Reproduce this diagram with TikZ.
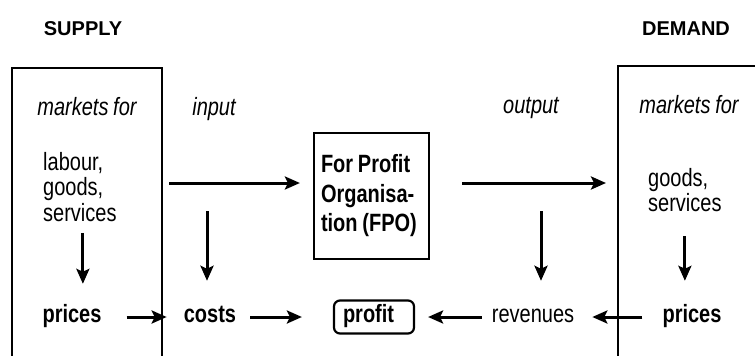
\documentclass[tikz,border=0pt]{standalone}
\usepackage{fontspec}
\setmainfont{Liberation Sans}[FakeStretch=0.8,WordSpace=0.85]
\newfontfamily\headfont{Liberation Sans}
\usepackage{tikz}
\usetikzlibrary{arrows.meta,positioning}

\begin{document}
\begin{tikzpicture}[
  x=1pt,y=-1pt,
  headline/.style={anchor=base,inner sep=0pt,font=\headfont\fontsize{20}{20}\selectfont\bfseries},
  flowlabel/.style={anchor=base,inner sep=0pt,font=\fontsize{25}{25}\selectfont\itshape},
  plain/.style={anchor=base,inner sep=0pt,text height=16pt,text depth=6pt,font=\fontsize{25}{25.5}\selectfont},
  price/.style={plain,font=\fontsize{25}{25.5}\selectfont\bfseries},
  marketlist/.style={anchor=north west,inner sep=0pt,align=flush left,font=\fontsize{25}{25.5}\selectfont},
  marketbox/.style={draw,line width=2.2pt,anchor=north west,minimum height=360pt,inner sep=0pt},
  fpobox/.style={draw,line width=2.2pt,text width=101pt,inner xsep=7pt,minimum height=126pt,align=flush left,font=\fontsize{25}{29.5}\selectfont\bfseries},
  profitbox/.style={draw,line width=2.2pt,rounded corners=6pt,anchor=base,text width=62pt,inner xsep=9pt,minimum height=33pt,text height=16pt,text depth=6pt,align=flush left,font=\fontsize{25}{25.5}\selectfont\bfseries},
  arrow/.style={-{Stealth[length=15pt,width=13pt,inset=3pt]},line width=3pt}
]
\useasboundingbox (0,0) rectangle (755,356);

% headings
\node[headline] (supply) at (83,35) {SUPPLY};
\node[headline] (demand) at (686,35) {DEMAND};

% market boxes, open at the bottom / right
\node[marketbox,minimum width=150pt] (lbox) at (11,67) {};
\node[marketbox,minimum width=200pt] (rbox) at (617,65) {};

\node[flowlabel] (lmkt) at (87,115) {markets for};
\node[flowlabel] (input) at (214,115) {input};
\node[flowlabel] (output) at (531,113) {output};
\node[flowlabel] (rmkt) at (689,113) {markets for};

\node[marketlist] (lgoods) at (43,152) {labour,\\goods,\\services};
\node[marketlist] (rgoods) at (648,168) {goods,\\services};

\node[fpobox] (fpo) at (371.5,196) {For Profit\\Organisa-\\tion (FPO)};

% bottom row
\node[price] (lprices) at (72,322) {prices};
\node[price] (costs) at (210,322) {costs};
\node[profitbox] (profit) at (374,322) {profit};
\node[plain] (revenues) at (533,322) {revenues};
\node[price] (rprices) at (692,322) {prices};

\coordinate (flow) at (0,183);
\coordinate (inflow) at (207,211);
\coordinate (outflow) at (541,211);

\draw[arrow,shorten <=6pt,shorten >=13pt] (lbox.east |- flow) -- (fpo.west |- flow);
\draw[arrow,shorten <=32pt,shorten >=11pt] (fpo.east |- flow) -- (rbox.west |- flow);
\draw[arrow,shorten >=25pt] (inflow) -- (inflow |- costs.north);
\draw[arrow,shorten >=25pt] (outflow) -- (outflow |- revenues.north);
\draw[arrow,shorten <=11pt,shorten >=22pt] ([xshift=3pt]lgoods.south) -- ([xshift=3pt]lgoods.south |- lprices.north);
\draw[arrow,shorten <=24pt,shorten >=25pt] (rgoods.south) -- (rgoods.south |- rprices.north);
\foreach \ra/\rb/\sa/\sb in {lprices/costs/25/17,costs/profit/14/31,revenues/profit/10/13,rprices/revenues/20/18}
  \draw[arrow,shorten <=\sa pt,shorten >=\sb pt] (\ra) -- (\rb);
\end{tikzpicture}
\end{document}
